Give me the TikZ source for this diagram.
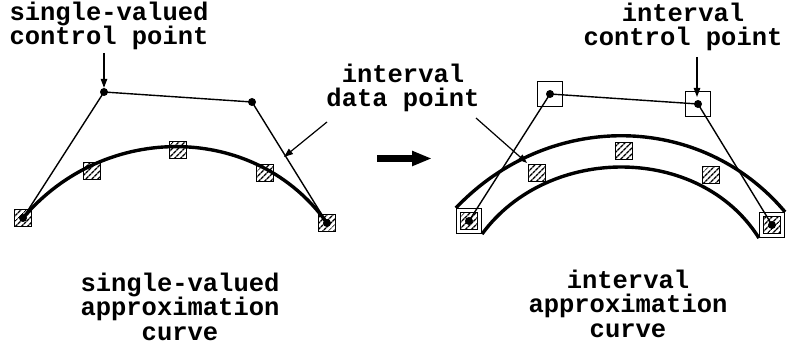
\documentclass[tikz,border=0pt]{standalone}
\usepackage{fontspec}
\setmonofont{Liberation Mono}
\usetikzlibrary{arrows.meta,patterns.meta}
\begin{document}
\begin{tikzpicture}[x=1pt,y=-1pt,
  lbl/.style={font=\ttfamily\bfseries\fontsize{25.5}{24.5}\selectfont, align=center, inner sep=0pt, anchor=base},
  datasq/.style={draw, line width=1pt, minimum size=17.5pt, inner sep=0pt,
    preaction={fill=white}, pattern={Lines[angle=45,distance=4pt,line width=1.5pt]}},
  ibox/.style={draw, line width=1.1pt, minimum size=25pt, inner sep=0pt},
  dot/.style={circle, fill, inner sep=0pt, minimum size=8pt},
  poly/.style={line width=1.4pt},
  crv/.style={line width=3.4pt},
  pointer/.style={line width=1.2pt, -{Triangle[length=9pt,width=6.5pt]}},
]
\fill[white] (0,0) rectangle (788,350);
\useasboundingbox (0,0) rectangle (788,350);

% ---------- labels (anchor = baseline of last line) ----------
\node[lbl] (tl) at (109,45) {single-valued\\control point};
\node[lbl] (tr) at (683,46) {interval\\control point};
\node[lbl] (mid) at (403,107) {interval\\data point};
\node[lbl] (bl) at (180,340) {single-valued\\approximation\\curve};
\node[lbl] (br) at (628,337) {interval\\approximation\\curve};

% ---------- left figure ----------
\coordinate (p0) at (23,218);
\coordinate (p1) at (104,92);
\coordinate (p2) at (252,102);
\coordinate (p3) at (327,223);
\node[datasq] (e0) at (p0) {};
\node[datasq] (e3) at (p3) {};
\node[datasq] (d1) at (92,171) {};
\node[datasq] (d2) at (178,150) {};
\node[datasq] (d3) at (265,173) {};
\draw[crv] (p0) .. controls (105,121) and (256,123) .. (p3);
\draw[poly] (p0) -- (p1) -- (p2) -- (p3);
\node[dot] (p0d) at (p0) {};
\node[dot] (p1d) at (p1) {};
\node[dot] (p2d) at (p2) {};
\node[dot] (p3d) at (p3) {};

% ---------- right figure ----------
\coordinate (q0) at (469,221);
\coordinate (q1) at (550,94);
\coordinate (q2) at (698,104);
\coordinate (q3) at (772,225);
\node[ibox] (b0) at (q0) {};
\node[datasq] (f0) at (q0) {};
\node[ibox] (b1) at (q1) {};
\node[ibox] (b2) at (q2) {};
\node[ibox] (b3) at (q3) {};
\node[datasq] (f3) at (q3) {};
\node[datasq] (g1) at (537,173) {};
\node[datasq] (g2) at (624,151) {};
\node[datasq] (g3) at (711,175) {};
\draw[crv] (b0.north west) .. controls (548,111) and (700,111) .. (b3.north east);
\draw[crv] (b0.south east) .. controls (548,144) and (700,144) .. (b3.south west);
\draw[poly] (q0) -- (q1) -- (q2) -- (q3);
\node[dot] (q0d) at (q0) {};
\node[dot] (q1d) at (q1) {};
\node[dot] (q2d) at (q2) {};
\node[dot] (q3d) at (q3) {};

% ---------- pointers ----------
\coordinate (a1) at (104,53);
\draw[pointer] (a1) -- (p1d.north);
\coordinate (a2) at (697,57);
\coordinate (a2t) at (697,97);
\draw[pointer] (a2) -- (a2t);
\coordinate (a3) at (327,122);
\coordinate (a3t) at (284,157);
\draw[pointer] (a3) -- (a3t);
\coordinate (a4) at (476,118);
\coordinate (a4t) at (527,163);
\draw[pointer] (a4) -- (a4t);

% ---------- big arrow ----------
\coordinate (m0) at (377,158.5);
\coordinate (m1) at (432,158.5);
\draw[line width=6.5pt, -{Triangle[length=20pt,width=14pt]}] (m0) -- (m1);
\end{tikzpicture}
\end{document}
